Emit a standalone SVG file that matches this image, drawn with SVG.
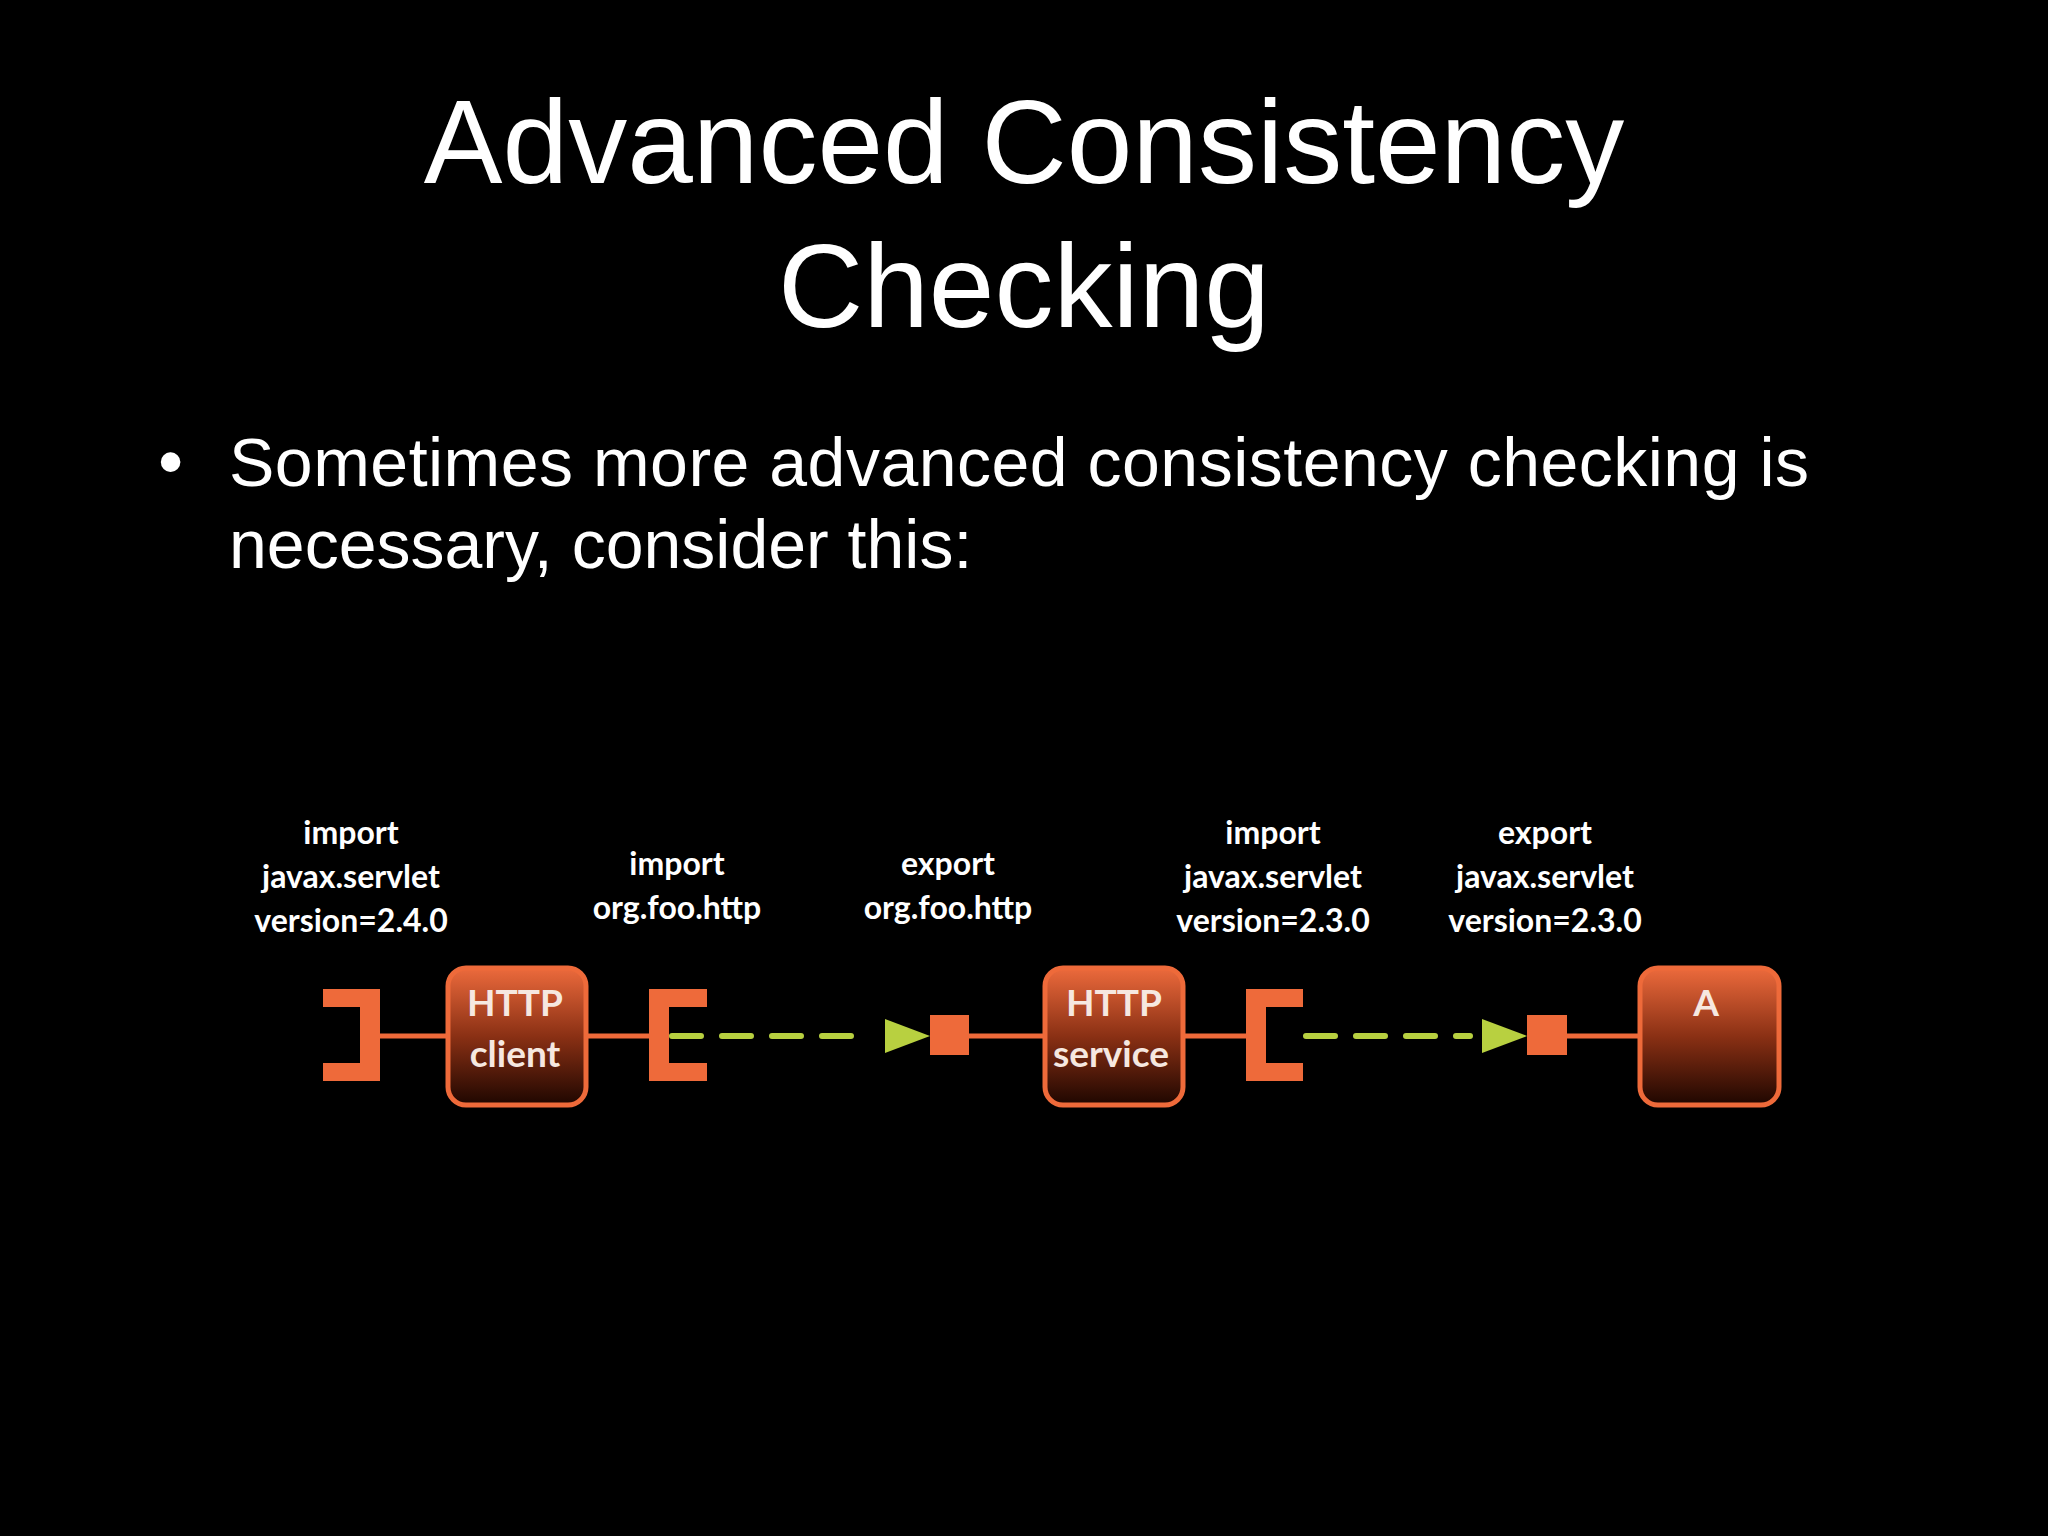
<svg xmlns="http://www.w3.org/2000/svg" width="2048" height="1536" viewBox="0 0 2048 1536">
<defs>
<linearGradient id="g" x1="0" y1="0" x2="0" y2="1">
<stop offset="0" stop-color="#ec6a3c"/><stop offset="0.5" stop-color="#8a3014"/><stop offset="1" stop-color="#1e0600"/>
</linearGradient>
</defs>
<style>
.t{font-family:"Liberation Sans",Arial,sans-serif;fill:#fff}
.l{font-family:Lato,"Open Sans",sans-serif;font-weight:bold;fill:#fff;font-size:32px;text-anchor:middle}
.n{font-family:Lato,"Open Sans",sans-serif;font-weight:bold;fill:#f6e8e0;font-size:37px;text-anchor:middle}
.box{fill:url(#g);stroke:#ee6a3a;stroke-width:5}
.o{fill:#ee6a3a}
.ln{stroke:#ee6a3a;stroke-width:5}
.d{stroke:#b8d040;stroke-width:6;stroke-dasharray:29 21;stroke-linecap:round}
.a{fill:#b8d040}
</style>
<rect width="2048" height="1536" fill="#000"/>
<text class="t" x="1024" y="183" font-size="118" text-anchor="middle">Advanced Consistency</text>
<text class="t" x="1024" y="327" font-size="118" text-anchor="middle">Checking</text>
<text class="t" x="158" y="486" font-size="72">•</text>
<text class="t" x="229" y="486" font-size="68" textLength="1580">Sometimes more advanced consistency checking is</text>
<text class="t" x="229" y="568" font-size="68">necessary, consider this:</text>
<g id="labels">
<text class="l" x="351" y="844">import</text><text class="l" x="351" y="888">javax.servlet</text><text class="l" x="351" y="932">version=2.4.0</text>
<text class="l" x="677" y="875">import</text><text class="l" x="677" y="919">org.foo.http</text>
<text class="l" x="948" y="875">export</text><text class="l" x="948" y="919">org.foo.http</text>
<text class="l" x="1273" y="844">import</text><text class="l" x="1273" y="888">javax.servlet</text><text class="l" x="1273" y="932">version=2.3.0</text>
<text class="l" x="1545" y="844">export</text><text class="l" x="1545" y="888">javax.servlet</text><text class="l" x="1545" y="932">version=2.3.0</text>
</g>
<g id="connectors">
<line class="ln" x1="380" y1="1036" x2="448" y2="1036"/>
<line class="ln" x1="586" y1="1036" x2="660" y2="1036"/>
<line class="d" x1="672" y1="1036" x2="870" y2="1036"/>
<polygon class="a" points="885,1019 930,1036 885,1053"/>
<line class="ln" x1="969" y1="1036" x2="1045" y2="1036"/>
<line class="ln" x1="1183" y1="1036" x2="1255" y2="1036"/>
<line class="d" x1="1306" y1="1036" x2="1470" y2="1036"/>
<polygon class="a" points="1482,1019 1527,1036 1482,1053"/>
<line class="ln" x1="1567" y1="1036" x2="1640" y2="1036"/>
</g>
<g id="req1"><path class="o" d="M323,989H380V1081H323V1063H360V1007H323Z"/></g>
<g id="client"><rect class="box" x="448" y="968" width="138" height="137" rx="18"/><text class="n" x="515" y="1016">HTTP</text><text class="n" x="515" y="1067">client</text></g>
<g id="req2"><path class="o" d="M707,989H649V1081H707V1063H669V1007H707Z"/></g>
<g id="cap1"><rect class="o" x="930" y="1015" width="39" height="40"/></g>
<g id="service"><rect class="box" x="1045" y="968" width="138" height="137" rx="18"/><text class="n" x="1114" y="1016">HTTP</text><text class="n" x="1111" y="1067">service</text></g>
<g id="req3"><path class="o" d="M1303,989H1246V1081H1303V1063H1266V1007H1303Z"/></g>
<g id="cap2"><rect class="o" x="1527" y="1015" width="40" height="40"/></g>
<g id="A"><rect class="box" x="1640" y="968" width="139" height="137" rx="18"/><text class="n" x="1706" y="1016">A</text></g>
</svg>
